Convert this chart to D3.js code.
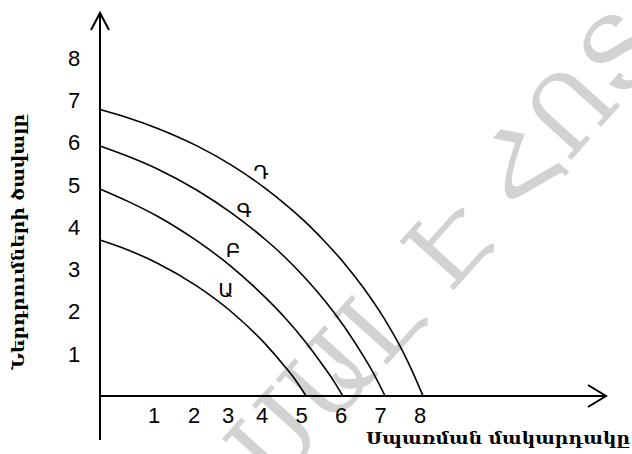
<!DOCTYPE html>
<html>
<head>
<meta charset="utf-8">
<script src="https://cdn.jsdelivr.net/npm/d3@7"></script>
<style>
  html, body { margin: 0; padding: 0; background: #fff; }
  svg { display: block; }
</style>
</head>
<body>
<svg id="chart" width="632" height="454"></svg>
<script>
// ---------- data ----------
const xTickLabels = [1, 2, 3, 4, 5, 6, 7, 8];
const yTickLabels = [1, 2, 3, 4, 5, 6, 7, 8];
const seriesNames = ["Ա", "Բ", "Գ", "Դ"];
// points: [x, y]
const curveA = [[0, 3.69], [0.5, 3.45], [1, 3.15], [2, 2.60], [3, 2.00], [4, 1.24], [4.5, 0.70], [4.77, 0.38], [5.04, 0]];
const curveB = [[0, 4.90], [0.5, 4.60], [1, 4.26], [2, 3.67], [3, 3.07], [4, 2.34], [4.5, 1.86], [5, 1.31], [5.5, 0.68], [5.75, 0.34], [5.97, 0]];
const curveG = [[0, 5.92], [0.5, 5.67], [1, 5.38], [2, 4.87], [3, 4.34], [4, 3.71], [4.5, 3.29], [5, 2.81], [5.5, 2.27], [6, 1.65], [6.5, 0.93], [6.75, 0.53], [7.04, 0]];
const curveD = [[0, 6.78], [0.5, 6.58], [1, 6.34], [2, 5.92], [3, 5.47], [4, 4.92], [4.5, 4.55], [5, 4.14], [5.5, 3.67], [6, 3.15], [6.5, 2.55], [7, 1.86], [7.5, 1.03], [7.75, 0.54], [8, 0]];
// curve label anchors in chart units
const labelPoints = [[2.85, 2.51], [3.06, 3.46], [3.38, 4.40], [3.88, 5.30]];
const yTitle = "Ներդրումների ծավալը";
const xTitle = "Սպառման մակարդակը";
const watermark = "ՍԱԼ Է ՀՈՏ";

const curves = [curveA, curveB, curveG, curveD];

// ---------- layout ----------
const svg = d3.select("#chart");
const originX = 100, originY = 396;
const x = d3.scaleLinear().domain([0, 1, 2, 3, 4, 8]).range([originX, 157, 197, 231, 265, 423]);
const y = d3.scaleLinear().domain([0, 8]).range([originY, 58]);

// watermark (behind everything)
svg.append("text")
  .attr("transform", "translate(274,490) rotate(-48)")
  .attr("font-family", "DejaVu Serif")
  .attr("font-size", 100)
  .attr("fill", "#d2d2d2")
  .text(watermark);

// axes lines
const axisG = svg.append("g").attr("stroke", "#000").attr("stroke-width", 2).attr("fill", "none");
axisG.append("line").attr("x1", originX).attr("y1", 440).attr("x2", originX).attr("y2", 13);
axisG.append("polyline").attr("points", `${originX - 9},30 ${originX},13 ${originX + 9},30`);
axisG.append("line").attr("x1", originX).attr("y1", originY).attr("x2", 606).attr("y2", originY);
axisG.append("polyline").attr("points", `588,385 606,${originY} 588,407`);

// tick labels
svg.append("g").selectAll("text").data(xTickLabels).join("text")
  .attr("x", d => x(d) - 3)
  .attr("y", 423)
  .attr("text-anchor", "middle")
  .attr("font-family", "Liberation Sans, Arial, sans-serif")
  .attr("font-size", 22)
  .text(d => d);

svg.append("g").selectAll("text").data(yTickLabels).join("text")
  .attr("x", 74)
  .attr("y", d => y(d))
  .attr("dy", "0.36em")
  .attr("text-anchor", "middle")
  .attr("font-family", "Liberation Sans, Arial, sans-serif")
  .attr("font-size", 22)
  .text(d => d);

// curves
const line = d3.line().x(d => x(d[0])).y(d => y(d[1])).curve(d3.curveMonotoneX);
svg.append("g").selectAll("path").data(curves).join("path")
  .attr("d", line)
  .attr("fill", "none")
  .attr("stroke", "#000")
  .attr("stroke-width", 1.6);

// curve labels
svg.append("g").selectAll("text").data(seriesNames).join("text")
  .attr("x", (d, i) => x(labelPoints[i][0]))
  .attr("y", (d, i) => y(labelPoints[i][1]))
  .attr("dy", "0.36em")
  .attr("text-anchor", "middle")
  .attr("font-family", "DejaVu Sans, sans-serif")
  .attr("font-size", 20)
  .text(d => d);

// axis titles
svg.append("text")
  .attr("transform", "translate(24,242) rotate(-90)")
  .attr("text-anchor", "middle")
  .attr("font-family", "DejaVu Serif, serif")
  .attr("font-weight", "bold")
  .attr("font-size", 17)
  .attr("textLength", 256)
  .attr("lengthAdjust", "spacingAndGlyphs")
  .text(yTitle);

svg.append("text")
  .attr("x", 366)
  .attr("y", 444)
  .attr("font-family", "DejaVu Serif, serif")
  .attr("font-weight", "bold")
  .attr("font-size", 17)
  .attr("textLength", 264)
  .attr("lengthAdjust", "spacingAndGlyphs")
  .text(xTitle);
</script>
</body>
</html>
